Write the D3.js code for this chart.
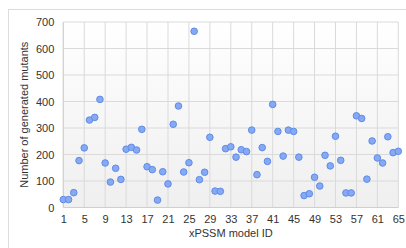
<!DOCTYPE html>
<html><head><meta charset="utf-8">
<script src="https://cdn.jsdelivr.net/npm/d3@7"></script>
<style>body{margin:0;background:#fff}svg{display:block}text{font-family:"Liberation Sans",Arial,sans-serif}</style>
</head><body>
<svg id="c" width="406" height="248"></svg>
<script>
const modelIds = d3.range(1, 66);
const mutants = [30,30,56,177,225,330,340,408,168,96,148,106,220,227,217,295,154,143,28,135,89,314,383,134,169,665,105,133,265,62,61,222,229,190,218,211,292,124,226,174,389,287,194,292,287,190,45,52,114,81,197,157,269,178,55,55,346,336,107,251,187,168,267,207,212];
const xTicks = d3.range(1, 66, 4);
const yTicks = d3.range(0, 701, 100);

const svg = d3.select("#c");
const L = 63.3, R = 398.3, T = 22, B = 207.5;
const x = d3.scaleLinear().domain([1, 65]).range([L, R]);
const y = d3.scaleLinear().domain([0, 700]).range([B, T]);

svg.append("rect").attr("x", 8.5).attr("y", 9.5).attr("width", 420).attr("height", 260)
  .attr("fill", "#fff").attr("stroke", "#dcdcdc");

const defs = svg.append("defs");
const g = defs.append("linearGradient").attr("id", "bg").attr("x1", 0).attr("y1", 0).attr("x2", 0).attr("y2", 1);
g.append("stop").attr("offset", "0%").attr("stop-color", "#ffffff");
g.append("stop").attr("offset", "100%").attr("stop-color", "#efefef");
svg.append("rect").attr("x", L).attr("y", T).attr("width", R - L).attr("height", B - T).attr("fill", "url(#bg)");

svg.append("g").selectAll("line").data(xTicks).join("line")
  .attr("x1", d => x(d)).attr("x2", d => x(d)).attr("y1", T).attr("y2", B)
  .attr("stroke", "#dadada").attr("stroke-width", 1);
svg.append("g").selectAll("line").data(yTicks).join("line")
  .attr("x1", L).attr("x2", R).attr("y1", d => y(d)).attr("y2", d => y(d))
  .attr("stroke", "#dadada").attr("stroke-width", 1);
svg.append("line").attr("x1", L).attr("x2", L).attr("y1", T).attr("y2", B).attr("stroke", "#cfcfcf");
svg.append("line").attr("x1", L).attr("x2", R).attr("y1", B).attr("y2", B).attr("stroke", "#cfcfcf");

const xAxis = svg.append("g").attr("transform", `translate(0,${B})`)
  .call(d3.axisBottom(x).tickValues(xTicks).tickSize(0).tickPadding(8));
const yAxis = svg.append("g").attr("transform", `translate(${L},0)`)
  .call(d3.axisLeft(y).tickValues(yTicks).tickSize(0).tickPadding(9));
[xAxis, yAxis].forEach(a => {
  a.select(".domain").remove();
  a.selectAll("text").attr("fill", "#333").attr("font-size", 11).attr("font-family", "Liberation Sans, Arial, sans-serif");
});

svg.append("g").selectAll("circle").data(modelIds).join("circle")
  .attr("cx", d => x(d)).attr("cy", (d, i) => y(mutants[i])).attr("r", 3.3)
  .attr("fill", "#86a9f4").attr("stroke", "#5f8be8").attr("stroke-width", 1);

svg.append("text").attr("x", (L + R) / 2).attr("y", 237).attr("text-anchor", "middle")
  .attr("font-size", 11).attr("fill", "#333").text("xPSSM model ID");
svg.append("text").attr("transform", `translate(28,${(T + B) / 2}) rotate(-90)`).attr("text-anchor", "middle")
  .attr("font-size", 11).attr("fill", "#333").text("Number of generated mutants");
</script>
</body></html>
